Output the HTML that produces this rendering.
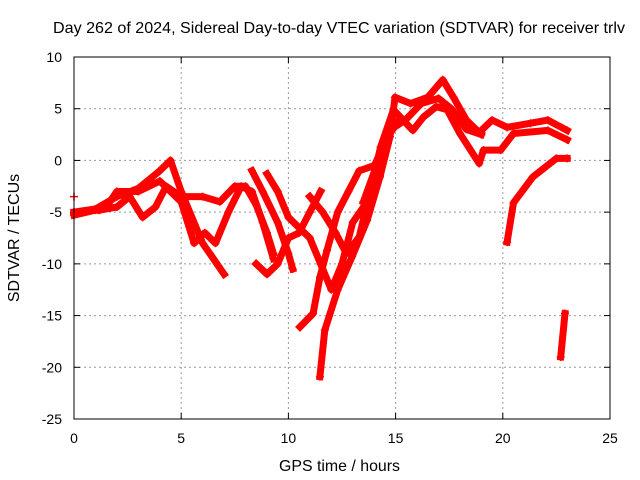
<!DOCTYPE html>
<html><head><meta charset="utf-8"><style>
body{margin:0;background:#fff}
svg{display:block;font-family:"Liberation Sans",sans-serif;font-size:14px}
</style></head><body>
<svg id="chart" width="640" height="480">
<text x="53" y="33" textLength="572" lengthAdjust="spacingAndGlyphs" style="font-size:16px">Day 262 of 2024, Sidereal Day-to-day VTEC variation (SDTVAR) for receiver trlv</text>
<text x="279" y="471" textLength="121" lengthAdjust="spacingAndGlyphs" style="font-size:16px">GPS time / hours</text>
<text transform="translate(19,238) rotate(-90)" text-anchor="middle" style="font-size:16px">SDTVAR / TECUs</text>
<g id="grid"></g><g id="ticks"></g><g id="series"></g>
<rect x="74" y="57" width="536" height="362" fill="none" stroke="#000"/>
</svg>
<script>
const xTicks=[0,5,10,15,20,25];
const yTicks=[10,5,0,-5,-10,-15,-20,-25];
const trackA=[[0,-5],[1,-4.7],[2,-3.5],[3,-2.7],[4,-1],[4.5,0],[5,-3],[6,-8],[6.5,-9.5],[7,-11]];
const trackB=[[0,-5.3],[1,-4.8],[1.5,-4.5],[2,-3],[3,-3],[4,-2],[5,-4],[5.6,-8],[6.1,-7],[6.6,-8],[7.2,-5],[7.8,-2.5],[8.3,-3],[8.8,-6],[9.3,-9.5]];
const trackC=[[1.2,-4.8],[2,-4.5],[2.6,-3.5],[3.2,-5.5],[3.8,-4.5],[4.3,-2.5],[5,-3.5],[6,-3.5],[6.8,-4],[7.5,-2.5],[8,-2.5],[8.5,-4.3],[9,-7],[9.3,-9]];
const trackD=[[8.5,-10],[9,-11],[9.5,-10],[10,-7.5],[10.5,-7],[11,-5],[11.5,-3]];
const trackE=[[8.3,-1],[8.8,-3],[9.5,-6],[10,-9],[10.2,-10.5]];
const trackF=[[9,-1.3],[9.5,-3],[10,-5.5],[10.5,-6.5],[11,-7.5],[11.5,-10],[12,-12.5],[12.5,-10],[13,-6],[14,-3],[14.5,1]];
const trackG=[[10.54,-16.1],[11.15,-14.8],[11.47,-11.3],[11.8,-8.7],[12.3,-5],[12.8,-3],[13.3,-1],[14,-0.5],[14.7,2.5],[15.2,4]];
const trackH=[[11.47,-20.9],[11.7,-16.4],[12.3,-12.5],[12.97,-9.3],[13.67,-5.8],[14.27,-1.6],[14.74,2.3],[14.97,6.1],[15.7,5.5],[16.5,6.1],[17.2,7.8],[17.7,6.1],[18.3,3.9],[18.9,2.7],[19.5,3.9],[20.2,3.2],[21.3,3.6],[22.1,3.9],[23,2.9]];
const trackI=[[11,-3.5],[11.6,-5],[12.2,-7],[12.7,-9],[13.3,-7.4],[14.3,1.3],[14.9,4.9],[15.8,2.9],[16.3,4.2],[16.9,5.2],[17.4,4.9],[18,2.6],[18.9,-0.3],[19.1,1],[19.9,1],[20.5,2.6],[22.1,2.9],[23,2]];
const trackJ=[[13.5,-4],[14.2,0],[14.8,3],[15.5,4],[16.2,5.5],[17,6],[17.6,5],[18.3,3],[19,2.5]];
const trackK=[[20.2,-7.9],[20.5,-4.1],[21.4,-1.6],[22.5,0.2],[23,0.2]];
const trackL=[[22.7,-19],[22.9,-14.8]];
const trackM=[[0,-3.5]];
const tracks=[trackA,trackB,trackC,trackD,trackE,trackF,trackG,trackH,trackI,trackJ,trackK,trackL,trackM];
const X=h=>74+h*(536/25), Y=v=>57+(10-v)*(362/35);
const NS="http://www.w3.org/2000/svg";
const grid=document.getElementById('grid'),ticks=document.getElementById('ticks'),ser=document.getElementById('series');
function mk(tag,attrs,parent){const e=document.createElementNS(NS,tag);for(const k in attrs)e.setAttribute(k,attrs[k]);parent.appendChild(e);return e;}
xTicks.forEach(t=>{
 if(t>0&&t<25){const g=mk('line',{x1:X(t),x2:X(t),y1:57,y2:419,stroke:'#999','stroke-dasharray':'2,3'},grid);
 
 }
 mk('line',{x1:X(t),x2:X(t),y1:419,y2:413,stroke:'#000'},ticks);mk('line',{x1:X(t),x2:X(t),y1:57,y2:63,stroke:'#000'},ticks);
 const tx=mk('text',{x:X(t),y:443,'text-anchor':'middle'},ticks);tx.textContent=t;
 
 
});
yTicks.forEach(t=>{
 if(t<10&&t>-25){const g=mk('line',{x1:74,x2:610,y1:Y(t),y2:Y(t),stroke:'#999','stroke-dasharray':'2,3'},grid);
 
 }
 mk('line',{x1:74,x2:80,y1:Y(t),y2:Y(t),stroke:'#000'},ticks);mk('line',{x1:604,x2:610,y1:Y(t),y2:Y(t),stroke:'#000'},ticks);
 const tx=mk('text',{x:62,y:Y(t)+5,'text-anchor':'end'},ticks);tx.textContent=t;
 
 
});
tracks.forEach((tr,i)=>{
 const pts=tr.map(p=>X(p[0]).toFixed(1)+','+Y(p[1]).toFixed(1)).join(' ');
 const pl=mk('polyline',{points:pts,fill:'none',stroke:'#f00','stroke-width':7,'stroke-linejoin':'round','stroke-linecap':'square'},ser);
 
 
 tr.forEach(p=>{
  const c=mk('path',{d:`M${X(p[0])-4},${Y(p[1])}h8M${X(p[0])},${Y(p[1])-4}v8`,stroke:'#f00','stroke-width':1.5},ser);
  
  
 });
});
</script>
</body></html>
